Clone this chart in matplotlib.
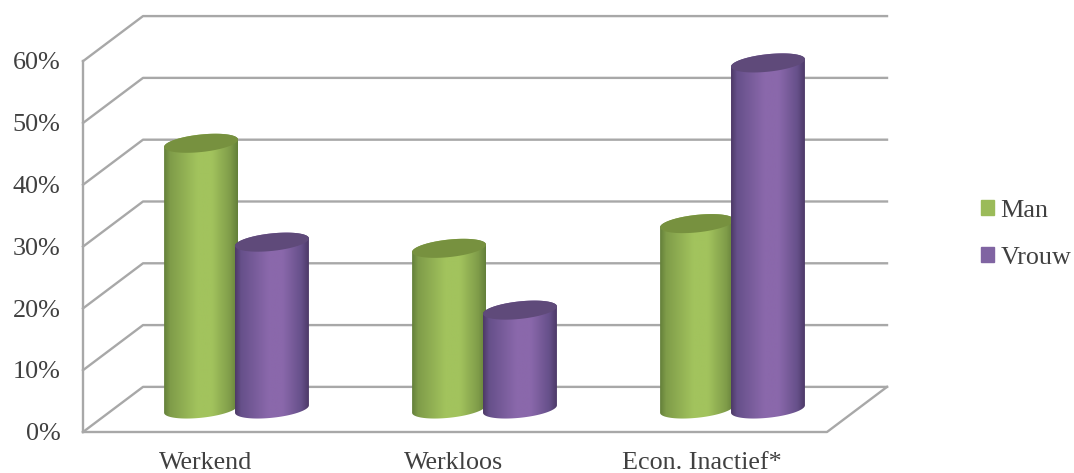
import numpy as np
import matplotlib.pyplot as plt
from matplotlib.patches import Patch, PathPatch
from matplotlib.path import Path
from matplotlib.colors import LinearSegmentedColormap

categories = ["Werkend", "Werkloos", "Econ. Inactief*"]
man = [43, 26, 30]
vrouw = [27, 16, 56]
yticks = [0, 10, 20, 30, 40, 50, 60]
ytick_labels = ["0%", "10%", "20%", "30%", "40%", "50%", "60%"]

# depth of the fake 3d box, in data units
DX = 0.242
DY = 7.3
BAR_W = 0.298
RX = BAR_W / 2

plt.rcParams["font.family"] = ["Liberation Serif", "DejaVu Serif"]
text_color = "#404040"
grid_color = "#a8a8a8"

fig = plt.figure(figsize=(10.74, 4.73), dpi=100)
ax = fig.add_axes([0, 0, 1, 1])
ax.axis("off")

# walls and floor
ax.plot([0, 0], [0, 60], color=grid_color, lw=1.7, zorder=1)
ax.plot([0, 3, 3 + DX], [0, 0, DY], color=grid_color, lw=1.7, zorder=1)
for t, lab in zip(yticks, ytick_labels):
    ax.plot([0, DX, 3 + DX], [t, t + DY, t + DY], color=grid_color, lw=1.7, zorder=1)
    ax.text(-0.09, t - 0.35, lab, ha="right", va="center", fontsize=18.8, color=text_color)

for i, c in enumerate(categories):
    ax.text(i + 0.495, -5.0, c, ha="center", va="center", fontsize=18.8, color=text_color)


def ellipse(cx, cy, t):
    # tilted top/bottom of the cylinder
    return cx + RX * np.cos(t), cy + 1.42 * np.sin(t) + 0.6 * np.cos(t)


def cylinder(cx, value, side, soft, mid, cap, z):
    base = 3.72
    xb, yb = ellipse(cx, base, np.linspace(np.pi, 2 * np.pi, 60))
    xt, yt = ellipse(cx, base + value, np.linspace(0, np.pi, 60))
    body = PathPatch(Path(np.c_[np.r_[xb, xt], np.r_[yb, yt]]), fc="none", ec="none", zorder=z)
    ax.add_patch(body)
    cmap = LinearSegmentedColormap.from_list(
        "c", [(0, side), (0.08, soft), (0.45, mid), (0.65, mid), (0.9, soft), (1, side)])
    grad = np.linspace(0, 1, 128).reshape(1, -1)
    im = ax.imshow(grad, cmap=cmap, aspect="auto", zorder=z, interpolation="bilinear",
                   extent=[cx - RX, cx + RX, base - 3, base + value + 3])
    im.set_clip_path(body)
    xc, yc = ellipse(cx, base + value, np.linspace(0, 2 * np.pi, 120))
    ax.fill(xc, yc, color=cap, lw=0, zorder=z + 0.1)


for i in range(len(categories)):
    cylinder(i + 0.476, man[i], "#64803a", "#7f9c49", "#a2c35d", "#77913f", 3 + i)
    cylinder(i + 0.762, vrouw[i], "#4d3a68", "#66508a", "#8a68ab", "#5f4a7a", 3.5 + i)

ax.set_xlim(-83 / 248, (1074 - 83) / 248)
ax.set_ylim(-41 / 6.18, 432 / 6.18)

handles = [Patch(color="#9bbb59", label="Man"), Patch(color="#8064a2", label="Vrouw")]
ax.legend(handles=handles, loc="center left", bbox_to_anchor=(0.9134, 0.505),
          frameon=False, fontsize=18.8, handlelength=0.5, handleheight=0.5,
          handletextpad=0.25, labelspacing=0.95, labelcolor=text_color,
          borderaxespad=0, borderpad=0)

fig.savefig("out.png", dpi=100)
